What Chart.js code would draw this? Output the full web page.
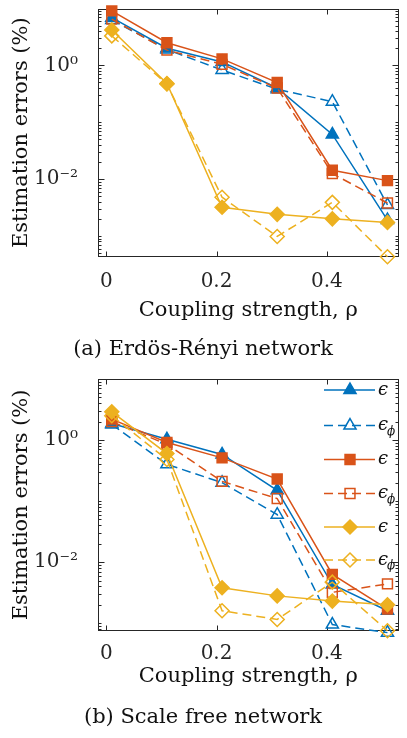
<!DOCTYPE html>
<html>
<head>
<meta charset="utf-8">
<script src="https://cdn.jsdelivr.net/npm/chart.js@4.4.0/dist/chart.umd.min.js"></script>
<style>
  body { margin: 0; background: #fff; }
  canvas { display: block; }
</style>
</head>
<body>
<canvas id="chartA" width="407" height="370"></canvas>
<canvas id="chartB" width="407" height="368"></canvas>
<script>
// Dados
const rho = [0.01, 0.11, 0.21, 0.31, 0.41, 0.51];
const xTicks = [0, 0.2, 0.4];
const yLabelTicks = [1, 0.01];

// (a) Erdös-Rényi
const erBlueEps = [6.9, 2.0, 1.15, 0.40, 0.061, 0.0019];
const erBlueEpsPhi = [6.3, 1.9, 0.83, 0.38, 0.23, 0.0035];
const erOrangeEps = [9.1, 2.5, 1.3, 0.50, 0.0143, 0.0094];
const erOrangeEpsPhi = [6.5, 1.85, 1.04, 0.40, 0.0125, 0.0038];
const erYellowEps = [4.2, 0.48, 0.0032, 0.0024, 0.0020, 0.00173];
const erYellowEpsPhi = [3.3, 0.47, 0.0048, 0.00098, 0.0039, 0.00043];

// (b) Scale free
const sfBlueEps = [1.86, 1.03, 0.58, 0.15, 0.0043, 0.0016];
const sfBlueEpsPhi = [1.8, 0.40, 0.20, 0.06, 0.00095, 0.0007];
const sfOrangeEps = [2.2, 0.91, 0.51, 0.23, 0.0063, 0.0017];
const sfOrangeEpsPhi = [2.0, 0.85, 0.21, 0.11, 0.0032, 0.0044];
const sfYellowEps = [2.9, 0.6, 0.0038, 0.0028, 0.0023, 0.0020];
const sfYellowEpsPhi = [2.5, 0.48, 0.0016, 0.00115, 0.0047, 0.00075];

const legendMain = ['ϵ', 'ϵ', 'ϵ', 'ϵ', 'ϵ', 'ϵ'];
const legendSub = ['', 'ϕ', '', 'ϕ', '', 'ϕ'];

// Estilos
const FONT = "'DejaVu Serif', serif";
const INK = '#262626';
const seriesStyle = [
  { color: '#0072BD', marker: 'triangle', radius: 7, filled: true, dash: [] },
  { color: '#0072BD', marker: 'triangle', radius: 7, filled: false, dash: [9, 5] },
  { color: '#D95319', marker: 'rect', radius: 7, filled: true, dash: [] },
  { color: '#D95319', marker: 'rect', radius: 7, filled: false, dash: [9, 5] },
  { color: '#EDB120', marker: 'rectRot', radius: 7, filled: true, dash: [] },
  { color: '#EDB120', marker: 'rectRot', radius: 7, filled: false, dash: [9, 5] }
];

function makeDatasets(seriesValues) {
  return seriesValues.map((vals, i) => {
    const s = seriesStyle[i];
    return {
      label: legendMain[i] + legendSub[i],
      data: vals.map((v, k) => ({ x: rho[k], y: v })),
      borderColor: s.color,
      borderWidth: 1.5,
      borderDash: s.dash,
      pointStyle: s.marker,
      pointRadius: s.radius,
      pointBorderWidth: 1.5,
      pointBorderColor: s.color,
      pointBackgroundColor: s.filled ? s.color : 'rgba(0,0,0,0)',
      fill: false,
      tension: 0,
      clip: 12,
      order: seriesValues.length - i
    };
  });
}

function logTicks(min, max) {
  const out = [];
  for (let e = Math.floor(Math.log10(min)); e <= Math.ceil(Math.log10(max)); e++) {
    for (let m = 1; m < 10; m++) {
      const v = m * Math.pow(10, e);
      if (v >= min * 0.999 && v <= max * 1.001) {
        const major = yLabelTicks.some(t => Math.abs(t - v) < v * 1e-6);
        out.push({ value: v, major: major });
      }
    }
  }
  return out;
}

const SUP = { '0': '⁰', '1': '¹', '2': '²', '3': '³', '-': '⁻' };
function logLabel(value) {
  if (!yLabelTicks.some(t => Math.abs(t - value) < value * 1e-6)) return '';
  const e = String(Math.round(Math.log10(value)));
  return '10' + e.split('').map(c => SUP[c]).join('');
}

// Caixa dos eixos e marcas para dentro (estilo MATLAB)
const framePlugin = {
  id: 'frame',
  beforeDatasetsDraw(chart) {
    const { ctx, chartArea: a, scales: { x, y } } = chart;
    const L = Math.round(a.left) + 0.5, R = Math.round(a.right) - 0.5;
    const T = Math.round(a.top) + 0.5, B = Math.round(a.bottom) - 0.5;
    ctx.save();
    ctx.strokeStyle = INK;
    ctx.lineWidth = 1;
    ctx.strokeRect(L, T, R - L, B - T);
    ctx.beginPath();
    x.ticks.forEach(t => {
      const px = Math.round(x.getPixelForValue(t.value)) + 0.5;
      ctx.moveTo(px, B); ctx.lineTo(px, B - 5);
      ctx.moveTo(px, T); ctx.lineTo(px, T + 5);
    });
    y.ticks.forEach(t => {
      const py = Math.round(y.getPixelForValue(t.value)) + 0.5;
      const len = t.major ? 6 : 3;
      ctx.moveTo(L, py); ctx.lineTo(L + len, py);
      ctx.moveTo(R, py); ctx.lineTo(R - len, py);
    });
    ctx.stroke();
    ctx.restore();
  }
};

function drawMarker(ctx, s, x, y) {
  const r = s.radius;
  ctx.beginPath();
  if (s.marker === 'triangle') {
    for (let k = 0; k < 3; k++) {
      const ang = k * 2 * Math.PI / 3;
      const px = x + Math.sin(ang) * r, py = y - Math.cos(ang) * r;
      if (k === 0) ctx.moveTo(px, py); else ctx.lineTo(px, py);
    }
    ctx.closePath();
  } else if (s.marker === 'rect') {
    const h = Math.SQRT1_2 * r;
    ctx.rect(x - h, y - h, 2 * h, 2 * h);
  } else {
    ctx.moveTo(x, y - r); ctx.lineTo(x + r, y); ctx.lineTo(x, y + r); ctx.lineTo(x - r, y);
    ctx.closePath();
  }
  if (s.filled) { ctx.fillStyle = s.color; ctx.fill(); }
  ctx.stroke();
}

// Legenda dentro do gráfico (b)
const legendRows = [20, 55.5, 89.5, 123.5, 157, 190];
const insideLegend = {
  id: 'insideLegend',
  afterDatasetsDraw(chart, args, opts) {
    if (!opts.show) return;
    const { ctx } = chart;
    ctx.save();
    seriesStyle.forEach((s, i) => {
      const y = legendRows[i];
      ctx.strokeStyle = s.color;
      ctx.lineWidth = 1.5;
      ctx.setLineDash(s.dash);
      ctx.beginPath();
      ctx.moveTo(324, y); ctx.lineTo(375, y);
      ctx.stroke();
      ctx.setLineDash([]);
      drawMarker(ctx, s, 350, y);
      ctx.fillStyle = '#111';
      ctx.textBaseline = 'middle';
      ctx.font = 'italic 18px ' + FONT;
      ctx.fillText(legendMain[i], 378, y);
      if (legendSub[i]) {
        const w = ctx.measureText(legendMain[i]).width;
        ctx.font = 'italic 12px ' + FONT;
        ctx.fillText(legendSub[i], 378 + w - 1, y + 6);
      }
    });
    ctx.restore();
  }
};

function makeChart(id, seriesValues, cfg) {
  return new Chart(document.getElementById(id).getContext('2d'), {
    type: 'line',
    data: { datasets: makeDatasets(seriesValues) },
    plugins: [framePlugin, insideLegend],
    options: {
      responsive: false,
      animation: false,
      devicePixelRatio: 1,
      layout: { padding: { top: cfg.padTop, right: 1, bottom: 4, left: 0 } },
      plugins: {
        legend: { display: false },
        tooltip: { enabled: false },
        insideLegend: { show: cfg.legend },
        title: {
          display: true,
          position: 'bottom',
          text: cfg.caption,
          color: '#111',
          font: { family: FONT, size: 21, weight: 'normal' },
          padding: { top: cfg.capTop, bottom: cfg.capBottom }
        }
      },
      scales: {
        x: {
          type: 'linear',
          min: -0.015,
          max: 0.53,
          grid: { display: false },
          border: { display: false },
          afterBuildTicks: s => { s.ticks = xTicks.map(v => ({ value: v })); },
          afterFit: s => { s.height = cfg.xHeight; s.paddingLeft = 0; s.paddingRight = 0; },
          ticks: {
            autoSkip: false,
            maxRotation: 0,
            padding: cfg.xTickPad,
            color: INK,
            font: { family: FONT, size: 20 },
            callback: v => (v === 0 ? '0' : v.toFixed(1))
          },
          title: {
            display: true,
            text: 'Coupling strength, ρ',
            color: '#111',
            font: { family: FONT, size: 21 },
            padding: { top: 0, bottom: cfg.xTitleBottom }
          }
        },
        y: {
          type: 'logarithmic',
          min: cfg.yMin,
          max: 10,
          grid: { display: false },
          border: { display: false },
          afterBuildTicks: s => { s.ticks = logTicks(cfg.yMin, 10); },
          afterFit: s => { s.width = 98; s.paddingTop = 0; s.paddingBottom = 0; },
          ticks: {
            autoSkip: false,
            padding: 12,
            color: INK,
            font: { family: FONT, size: 20 },
            callback: v => logLabel(v)
          },
          title: {
            display: true,
            text: 'Estimation errors (%)',
            color: '#111',
            font: { family: FONT, size: 21 },
            padding: { top: 9, bottom: 0 }
          }
        }
      }
    }
  });
}

const chartA = makeChart('chartA',
  [erBlueEps, erBlueEpsPhi, erOrangeEps, erOrangeEpsPhi, erYellowEps, erYellowEpsPhi],
  { caption: '(a) Erdös-Rényi network', yMin: 0.00043, padTop: 4, capTop: 10, capBottom: 4,
    xHeight: 70, xTickPad: 5, xTitleBottom: 4, legend: false });

const chartB = makeChart('chartB',
  [sfBlueEps, sfBlueEpsPhi, sfOrangeEps, sfOrangeEpsPhi, sfYellowEps, sfYellowEpsPhi],
  { caption: '(b) Scale free network', yMin: 0.00075, padTop: 9, capTop: 8, capBottom: 4,
    xHeight: 66, xTickPad: 3, xTitleBottom: 8, legend: true });
</script>
</body>
</html>
